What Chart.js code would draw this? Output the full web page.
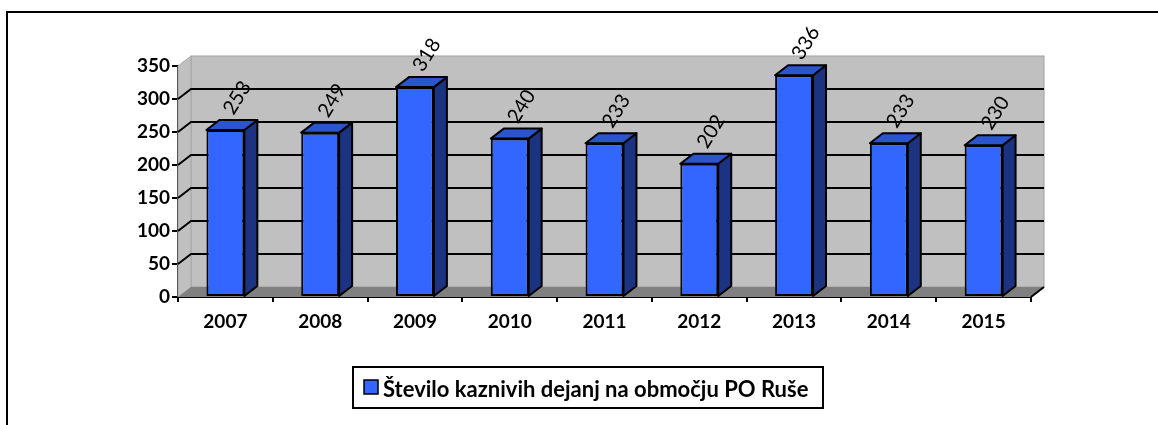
<!DOCTYPE html>
<html>
<head>
<meta charset="utf-8">
<script src="https://cdn.jsdelivr.net/npm/chart.js@4.4.1/dist/chart.umd.min.js"></script>
<style>
  html, body { margin: 0; padding: 0; background: #fff; }
  #wrap { width: 1158px; height: 425px; position: relative; }
</style>
</head>
<body>
<div id="wrap"><canvas id="barChart"></canvas></div>
<script>
// podatki
const years = ['2007', '2008', '2009', '2010', '2011', '2012', '2013', '2014', '2015'];
const crimeCounts = [253, 249, 318, 240, 233, 202, 336, 233, 230];
const seriesLabel = 'Število kaznivih dejanj na območju PO Ruše';
const yTicks = [0, 50, 100, 150, 200, 250, 300, 350];

// barve
const colors = {
  front: '#3366FF',
  side: '#1B3380',
  top: '#2A55CC',
  wall: '#C0C0C0',
  floor: '#808080'
};

const fontFamily = 'Lato, "Open Sans", sans-serif';
const depthX = 13;
const depthY = 10;

// 3D stene, mreža, oznake in stranice stolpcev
const bar3d = {
  id: 'bar3d',
  beforeDatasetsDraw(chart) {
    const { ctx, chartArea: a, scales: { y } } = chart;
    ctx.save();

    // zadnja stena
    ctx.fillStyle = colors.wall;
    ctx.fillRect(a.left + depthX, a.top - depthY, a.width, a.height);
    ctx.strokeStyle = '#a0a0a0';
    ctx.lineWidth = 1;
    ctx.strokeRect(a.left + depthX, a.top - depthY, a.width, a.height);

    // leva stena
    ctx.beginPath();
    ctx.moveTo(a.left, a.top);
    ctx.lineTo(a.left + depthX, a.top - depthY);
    ctx.lineTo(a.left + depthX, a.bottom - depthY);
    ctx.lineTo(a.left, a.bottom);
    ctx.closePath();
    ctx.fillStyle = colors.wall;
    ctx.fill();
    ctx.strokeStyle = '#a8a8a8';
    ctx.stroke();

    // tla
    ctx.beginPath();
    ctx.moveTo(a.left, a.bottom);
    ctx.lineTo(a.left + depthX, a.bottom - depthY);
    ctx.lineTo(a.right + depthX, a.bottom - depthY);
    ctx.lineTo(a.right, a.bottom);
    ctx.closePath();
    ctx.fillStyle = colors.floor;
    ctx.fill();

    // mreža
    ctx.strokeStyle = '#000';
    ctx.lineWidth = 2;
    yTicks.forEach(v => {
      if (v === 0 || v === yTicks[yTicks.length - 1]) return;
      const py = y.getPixelForValue(v);
      ctx.beginPath();
      ctx.moveTo(a.left, py);
      ctx.lineTo(a.left + depthX, py - depthY);
      ctx.lineTo(a.right + depthX, py - depthY);
      ctx.stroke();
    });

    // desni rob osi x
    ctx.beginPath();
    ctx.moveTo(a.right, a.bottom);
    ctx.lineTo(a.right + depthX, a.bottom - depthY);
    ctx.stroke();

    const meta = chart.getDatasetMeta(0);

    // oznake vrednosti
    ctx.fillStyle = '#000';
    ctx.font = '20px ' + fontFamily;
    ctx.textAlign = 'left';
    ctx.textBaseline = 'alphabetic';
    meta.data.forEach((bar, i) => {
      ctx.save();
      ctx.translate(bar.x + 8, bar.y - 14);
      ctx.rotate(-58 * Math.PI / 180);
      ctx.fillText(String(crimeCounts[i]), 0, 0);
      ctx.restore();
    });

    // stranice in vrhovi stolpcev
    ctx.lineWidth = 2;
    ctx.lineJoin = 'round';
    ctx.strokeStyle = '#000';
    meta.data.forEach(bar => {
      const l = bar.x - bar.width / 2;
      const r = bar.x + bar.width / 2;
      const t = bar.y;
      const b = bar.base;

      ctx.beginPath();
      ctx.moveTo(r, t);
      ctx.lineTo(r + depthX, t - depthY);
      ctx.lineTo(r + depthX, b - depthY);
      ctx.lineTo(r, b);
      ctx.closePath();
      ctx.fillStyle = colors.side;
      ctx.fill();
      ctx.stroke();

      ctx.beginPath();
      ctx.moveTo(l, t);
      ctx.lineTo(l + depthX, t - depthY);
      ctx.lineTo(r + depthX, t - depthY);
      ctx.lineTo(r, t);
      ctx.closePath();
      ctx.fillStyle = colors.top;
      ctx.fill();
      ctx.stroke();
    });

    ctx.restore();
  },
  afterDraw(chart) {
    const { ctx } = chart;
    ctx.save();

    // zunanji okvir
    ctx.strokeStyle = '#000';
    ctx.lineWidth = 2;
    ctx.strokeRect(7, 12, 1300, 600);

    // legenda
    ctx.fillStyle = '#fff';
    ctx.fillRect(353, 367, 470, 41);
    ctx.strokeRect(353, 367, 470, 41);
    ctx.fillStyle = colors.front;
    ctx.fillRect(364, 380, 14, 14);
    ctx.lineWidth = 1.5;
    ctx.strokeRect(364, 380, 14, 14);
    ctx.fillStyle = '#000';
    ctx.font = 'bold 22px ' + fontFamily;
    ctx.textAlign = 'left';
    ctx.textBaseline = 'alphabetic';
    ctx.fillText(seriesLabel, 383, 397);

    ctx.restore();
  }
};

const ctx = document.getElementById('barChart').getContext('2d');
new Chart(ctx, {
  type: 'bar',
  data: {
    labels: years,
    datasets: [{
      label: seriesLabel,
      data: crimeCounts,
      backgroundColor: colors.front,
      borderColor: '#000',
      borderWidth: 2,
      borderSkipped: false,
      categoryPercentage: 1,
      barPercentage: 0.4
    }]
  },
  options: {
    responsive: true,
    maintainAspectRatio: false,
    animation: false,
    layout: {
      padding: { left: 0, right: 127, top: 66, bottom: 88 }
    },
    scales: {
      x: {
        offset: true,
        afterFit(scale) { scale.height = 40; },
        grid: {
          display: true,
          offset: true,
          drawOnChartArea: false,
          drawTicks: true,
          tickLength: 5,
          color: '#000',
          lineWidth: 2
        },
        border: { display: true, color: '#000', width: 2 },
        ticks: {
          color: '#000',
          padding: 8,
          font: { family: fontFamily, size: 19, weight: 'bold' }
        }
      },
      y: {
        min: 0,
        max: 350,
        afterFit(scale) { scale.width = 178; },
        afterBuildTicks(scale) { scale.ticks = yTicks.map(v => ({ value: v })); },
        grid: {
          display: true,
          drawOnChartArea: false,
          drawTicks: true,
          tickLength: 6,
          color: '#000',
          lineWidth: 2
        },
        border: { display: true, color: '#000', width: 2 },
        ticks: {
          color: '#000',
          padding: 2,
          font: { family: fontFamily, size: 19, weight: 'bold' }
        }
      }
    },
    plugins: {
      legend: { display: false },
      tooltip: { enabled: false }
    }
  },
  plugins: [bar3d]
});
</script>
</body>
</html>
